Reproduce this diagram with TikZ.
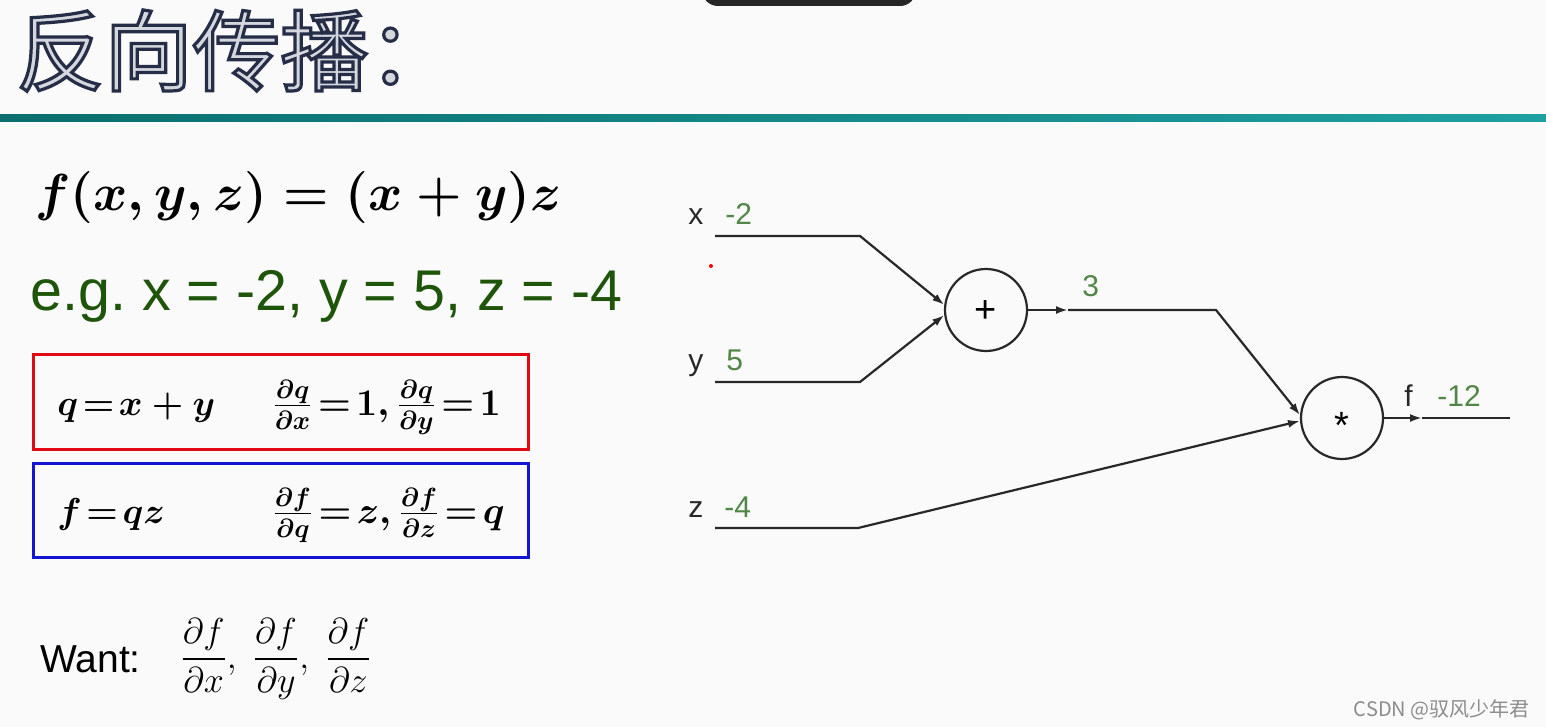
\RequirePackage{fix-cm}
\documentclass[tikz,border=0pt]{standalone}
\usepackage{amsmath}
\usepackage[no-math]{fontspec}
\newfontfamily\arial{Liberation Sans}
\newfontfamily\cjk{Noto Sans CJK SC}
\usetikzlibrary{arrows.meta}
\definecolor{egreen}{RGB}{30,85,10}
\definecolor{vgreen}{RGB}{80,135,70}
\definecolor{boxred}{RGB}{225,10,20}
\definecolor{boxblue}{RGB}{20,20,210}
\definecolor{tealA}{RGB}{10,110,110}
\definecolor{tealB}{RGB}{30,160,160}
\definecolor{titlefill}{RGB}{212,215,222}
\definecolor{ink}{RGB}{40,40,40}
\newcommand\strokedtext[1]{\special{pdf:literal 2 Tr 1.6 w 0.15 0.18 0.28 RG}#1\special{pdf:literal 0 Tr}}
\newsavebox\feqbox
\newsavebox\qdefbox
\newsavebox\qderbox
\newsavebox\fdefbox
\newsavebox\fderbox
\newsavebox\wantbox
\begin{document}
\frenchspacing
\sbox\feqbox{\fontsize{26}{30}\selectfont\boldmath$f(x,y,z)=(x+y)z$}%
\sbox\qdefbox{\fontsize{18}{20}\selectfont\thickmuskip=2mu\boldmath$q=x+y$}%
\sbox\qderbox{\fontsize{18.8}{22}\selectfont\thickmuskip=2.2mu\boldmath$\frac{\partial q}{\partial x}=1,\frac{\partial q}{\partial y}=1$}%
\sbox\fdefbox{\fontsize{18}{20}\selectfont\thickmuskip=2mu\boldmath$f=qz$}%
\sbox\fderbox{\fontsize{18.8}{22}\selectfont\thickmuskip=2.2mu\boldmath$\frac{\partial f}{\partial q}=z,\frac{\partial f}{\partial z}=q$}%
\sbox\wantbox{\fontsize{18}{22}\selectfont$\dfrac{\partial f}{\partial x},\;\dfrac{\partial f}{\partial y},\;\dfrac{\partial f}{\partial z}$}%
\begin{tikzpicture}[x=0.5pt,y=-0.5pt,
  lab/.style={font=\arial\fontsize{15}{18}\selectfont, text=ink, inner sep=0pt, anchor=base west},
  val/.style={lab, text=vgreen},
  gate/.style={circle, draw=ink, line width=1.1pt, minimum size=41pt, inner sep=0pt, font=\arial\fontsize{19}{20}\selectfont},
  wire/.style={draw=ink, line width=1.1pt},
  tip/.style={-{Latex[length=6pt,width=4pt]}},
  eqbox/.style={line width=1.5pt},
  mathtxt/.style={inner sep=0pt, anchor=base west, text=black},
  titlefont/.style={anchor=base west, inner sep=0pt, font=\cjk\fontsize{44}{48}\selectfont}]
\useasboundingbox (0,0) rectangle (1546,727);
\fill[white!98!black] (0,0) rectangle (1546,727);
\fill[black!85, rounded corners=8pt] (702,-30) rectangle (916,6);
\fill[left color=tealA, right color=tealB] (0,115) rectangle (1546,122);
% title
\node[titlefont, text=titlefill] (title) at (16,84) {\strokedtext{反向传播：}};
% formulas
\node[mathtxt] (feq) at (35,211) {\usebox\feqbox};
\node[lab, font=\arial\fontsize{28.7}{34}\selectfont, text=egreen] (eg) at (30,310) {e.g. x = -2, y = 5, z = -4};
\draw[eqbox, draw=boxred] (33,354) rectangle (528,449);
\draw[eqbox, draw=boxblue] (33,463) rectangle (528,557);
\node[mathtxt] (qdef) at (57,415) {\usebox\qdefbox};
\node[mathtxt] (qder) at (272,415) {\usebox\qderbox};
\node[mathtxt] (fdef) at (57,523) {\usebox\fdefbox};
\node[mathtxt] (fder) at (272,523) {\usebox\fderbox};
\node[lab, font=\arial\fontsize{19.5}{24}\selectfont, text=black] (want) at (40,672) {Want:};
\node[mathtxt] (wantd) at (180,668) {\usebox\wantbox};
% graph
\node[gate] (plus) at (986,310) {\smash{\raisebox{-0.33em}{+}}};
\node[gate] (mul) at (1342,418) {\smash{\raisebox{-0.55em}{*}}};
\coordinate (x0) at (715,236); \coordinate (x1) at (860,236);
\coordinate (y0) at (715,382); \coordinate (y1) at (860,382);
\coordinate (z0) at (715,528); \coordinate (z1) at (858,528);
\coordinate (qm) at (1068,310); \coordinate (qc) at (1216,310);
\coordinate (fm) at (1422,418); \coordinate (fe) at (1510,418);
\draw[wire, tip] (x0) -- (x1) -- (plus.173);
\draw[wire, tip] (y0) -- (y1) -- (plus.187);
\draw[wire, tip] (plus.east) -- (qm);
\draw[wire, tip] (qm) -- (qc) -- (mul.176);
\draw[wire, tip] (z0) -- (z1) -- (mul.184);
\draw[wire, tip] (mul.east) -- (fm);
\draw[wire] (fm) -- (fe);
\node[lab] (xl) at (688,225) {x}; \node[val] (xv) at (725,225) {-2};
\node[lab] (yl) at (688,370) {y}; \node[val] (yv) at (726,370) {5};
\node[lab] (zl) at (688,517) {z}; \node[val] (zv) at (724,517) {-4};
\node[val] (qv) at (1082,296) {3};
\node[lab] (fl) at (1404,406) {f}; \node[val] (fv) at (1437,406) {-12};
\fill[red] (711,266) circle (1pt);
\node[anchor=base east, inner sep=0pt, font=\cjk\fontsize{10}{12}\selectfont, text=black!45] (wm) at (1530,716) {CSDN @驭风少年君};
\end{tikzpicture}
\end{document}
